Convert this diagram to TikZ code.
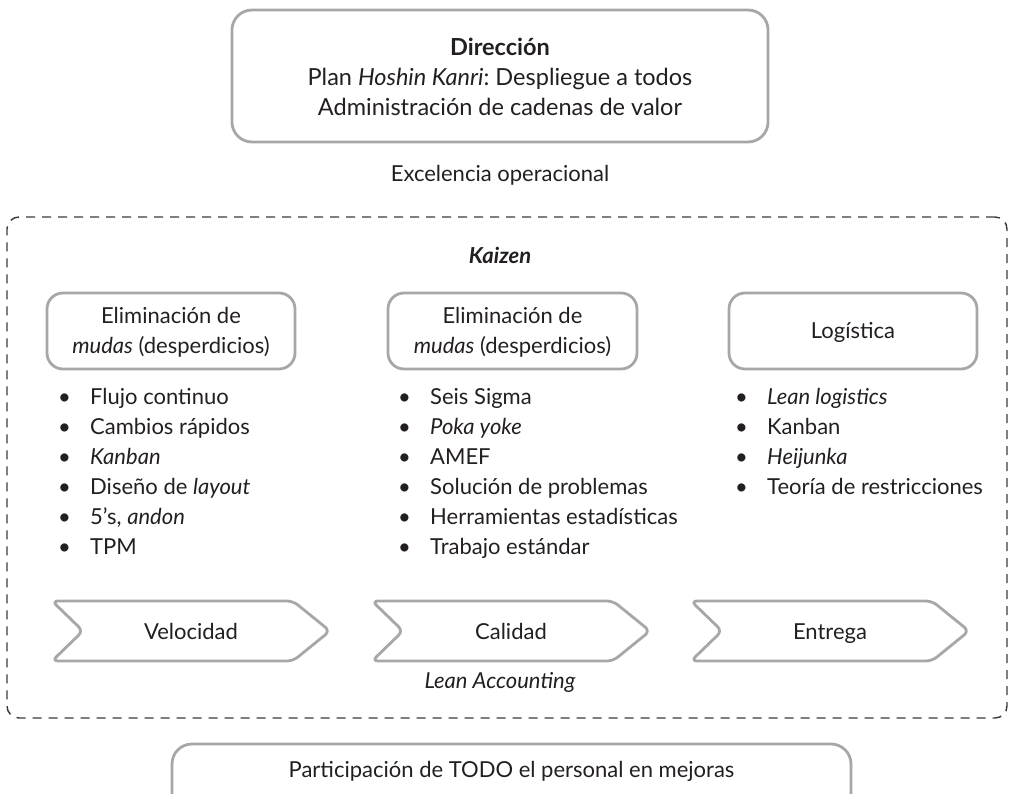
\documentclass[tikz,border=0pt]{standalone}
\usepackage{fontspec}
\setmainfont{Lato}
\definecolor{boxgray}{HTML}{A6A7A9}
\definecolor{txt}{HTML}{231F20}
\definecolor{dashc}{HTML}{3A3A3A}
\frenchspacing
\begin{document}
\begin{tikzpicture}[x=1pt,y=-1pt,
  font=\fontsize{22}{30}\selectfont, text=txt,
  rbox/.style={draw=boxgray, line width=2.8pt, rounded corners=16pt, align=center, inner sep=0pt},
  lbl/.style={inner sep=0pt, align=center},
  chevlbl/.style={inner sep=0pt, anchor=base},
  listnode/.style={inner sep=0pt, anchor=base west},
  chev/.style={draw=boxgray, line width=2.8pt, rounded corners=6pt, fill=white},
  chevpic/.pic={\draw[chev] (-139,-30) -- (102,-30) -- (139,0) -- (102,30) -- (-139,30) -- (-108,0) -- cycle;}]
\useasboundingbox (0,0) rectangle (1015,794);

% top
\node[rbox, rounded corners=20pt, minimum width=536pt, minimum height=132pt] (dir) at (500,76) {};
\node[lbl, font=\fontsize{23.5}{30}\selectfont] (dirtxt) at (500,77) {\textbf{Dirección}\\Plan \textit{Hoshin Kanri}: Despliegue a todos\\Administración de cadenas de valor};
\node[lbl] (exc) at (500,175) {Excelencia operacional};

% dashed frame
\node[draw=dashc, dash pattern=on 9pt off 7pt, line width=1.4pt, rounded corners=12pt,
      minimum width=1000pt, minimum height=501pt, inner sep=0pt] (frame) at (507,467.5) {};
\node[lbl] (kaizen) at (500,255) {\textbf{\textit{Kaizen}}};

% category boxes
\node[rbox, minimum width=248pt, minimum height=76pt] (b1) at (171,331) {};
\node[lbl] (b1t) at (171,332) {Eliminación de\\\textit{mudas} (desperdicios)};
\node[rbox, minimum width=249pt, minimum height=76pt] (b2) at (512.5,331) {};
\node[lbl] (b2t) at (512.5,332) {Eliminación de\\\textit{mudas} (desperdicios)};
\node[rbox, minimum width=248pt, minimum height=76pt] (b3) at (853,331) {};
\node[chevlbl] (b3t) at (853,339) {Logística};

% lists
\node[listnode] (l1) at (58,404) {\begin{tabular}[t]{@{}p{32pt}@{}l@{}}
\textbullet & Flujo continuo\\
\textbullet & Cambios rápidos\\
\textbullet & \textit{Kanban}\\
\textbullet & Diseño de \textit{layout}\\
\textbullet & 5’s, \textit{andon}\\
\textbullet & TPM
\end{tabular}};
\node[listnode] (l2) at (398,404) {\begin{tabular}[t]{@{}p{32pt}@{}l@{}}
\textbullet & Seis Sigma\\
\textbullet & \textit{Poka yoke}\\
\textbullet & AMEF\\
\textbullet & Solución de problemas\\
\textbullet & Herramientas estadísticas\\
\textbullet & Trabajo estándar
\end{tabular}};
\node[listnode] (l3) at (735,404) {\begin{tabular}[t]{@{}p{32pt}@{}l@{}}
\textbullet & \textit{Lean logistics}\\
\textbullet & Kanban\\
\textbullet & \textit{Heijunka}\\
\textbullet & Teoría de restricciones
\end{tabular}};

% chevrons
\pic at (191,631) {chevpic};
\node[chevlbl] (vel) at (191,639) {Velocidad};
\pic at (511,631) {chevpic};
\node[chevlbl] (cal) at (511,639) {Calidad};
\pic at (830,631) {chevpic};
\node[chevlbl] (ent) at (830,639) {Entrega};

\node[lbl] (lean) at (500,682) {\textit{Lean Accounting}};

% bottom
\node[rbox, rounded corners=20pt, minimum width=679pt, minimum height=80pt] (part) at (511.5,784) {};
\node[lbl] (partt) at (511.5,771) {Participación de TODO el personal en mejoras};
\end{tikzpicture}
\end{document}
